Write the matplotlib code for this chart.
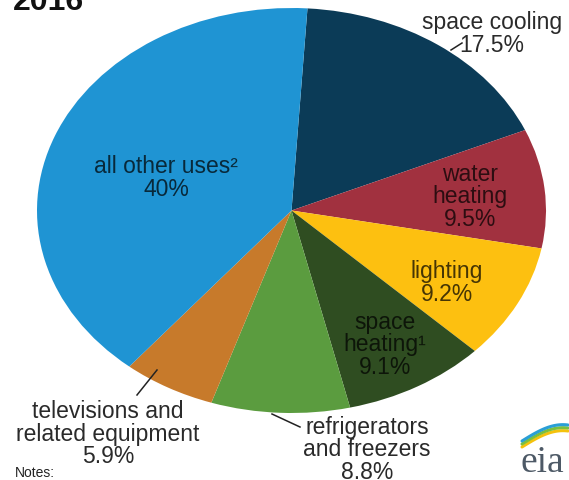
import numpy as np
import matplotlib
matplotlib.use("Agg")
import matplotlib.pyplot as plt
from matplotlib.lines import Line2D

plt.rcParams['font.family'] = ['Liberation Sans', 'DejaVu Sans']

# ---- data ----
categories = ['space cooling', 'water heating', 'lighting', 'space heating',
              'refrigerators and freezers', 'televisions and related equipment',
              'all other uses']
shares = [17.5, 9.5, 9.2, 9.1, 8.8, 5.9, 40.0]
label_texts = ['space cooling\n17.5%', 'water\nheating\n9.5%', 'lighting\n9.2%',
               'space\nheating\u00b9\n9.1%', 'refrigerators\nand freezers\n8.8%',
               'televisions and\nrelated equipment\n5.9%', 'all other uses\u00b2\n40%']
title_text = '2016'
notes_text = 'Notes:'

# ---- style ----
colors = ['#0b3b57', '#a1313f', '#fdc010', '#2f4d21', '#5b9c3f', '#c77a2b', '#1f94d3']
W, H = 569, 481


def fx(x):
    return x / W


def fy(y):
    return 1 - y / H


fig = plt.figure(figsize=(W / 100, H / 100), dpi=100)
fig.patch.set_facecolor('white')

# pie bounding box in pixels (elliptical pie)
left, right, top, bottom = 37, 546, 9, 414
ax = fig.add_axes([fx(left), fy(bottom), (right - left) / W, (bottom - top) / H])
ax.pie(shares, colors=colors, startangle=86.4, counterclock=False, radius=1,
       wedgeprops=dict(linewidth=0))
ax.set_aspect('auto')
ax.set_xlim(-1, 1)
ax.set_ylim(-1, 1)
ax.axis('off')

# label positions (pixel centres) and styles
label_pos = [(492, 34), (470, 197), (447, 283), (385, 345), (367, 450), (108, 434), (166, 178)]
inside = [False, True, True, True, False, False, True]
for txt, (px, py), ins in zip(label_texts, label_pos, inside):
    if ins:
        fig.text(fx(px), fy(py), txt, ha='center', va='center', fontsize=16.5,
                 color='black', alpha=0.72, linespacing=0.98)
    else:
        fig.text(fx(px), fy(py), txt, ha='center', va='center', fontsize=16.5,
                 color='#2a2a2a', linespacing=0.98)

# leader lines
leaders = [((451, 51), (462, 44)), ((272, 415), (300, 428)), ((157, 371), (137, 396))]
for (x0, y0), (x1, y1) in leaders:
    fig.add_artist(Line2D([fx(x0), fx(x1)], [fy(y0), fy(y1)], color='#222222', lw=1.1))

# title and notes
fig.text(fx(13), fy(10), title_text, ha='left', va='baseline', fontsize=23,
         fontweight='bold', color='#111111')
fig.text(fx(15), fy(477), notes_text, ha='left', va='baseline', fontsize=10,
         color='#222222')

# eia logo
fig.text(fx(542), fy(472), 'eia', ha='center', va='baseline', fontsize=27,
         family=['Liberation Serif', 'DejaVu Serif'], color='#4d5966')
t = np.linspace(0, 1, 40)
for col, off in [('#f4c20d', 0), ('#7cbf3f', 3), ('#2a9fd6', 6)]:
    xs = 522 + 46 * t
    ys = 448 - off - 22 * np.sin(t * np.pi / 2) + 6 * t
    fig.add_artist(Line2D(fx(xs), fy(ys), color=col, lw=2.2, solid_capstyle='round'))

fig.savefig('out.png', dpi=100)
